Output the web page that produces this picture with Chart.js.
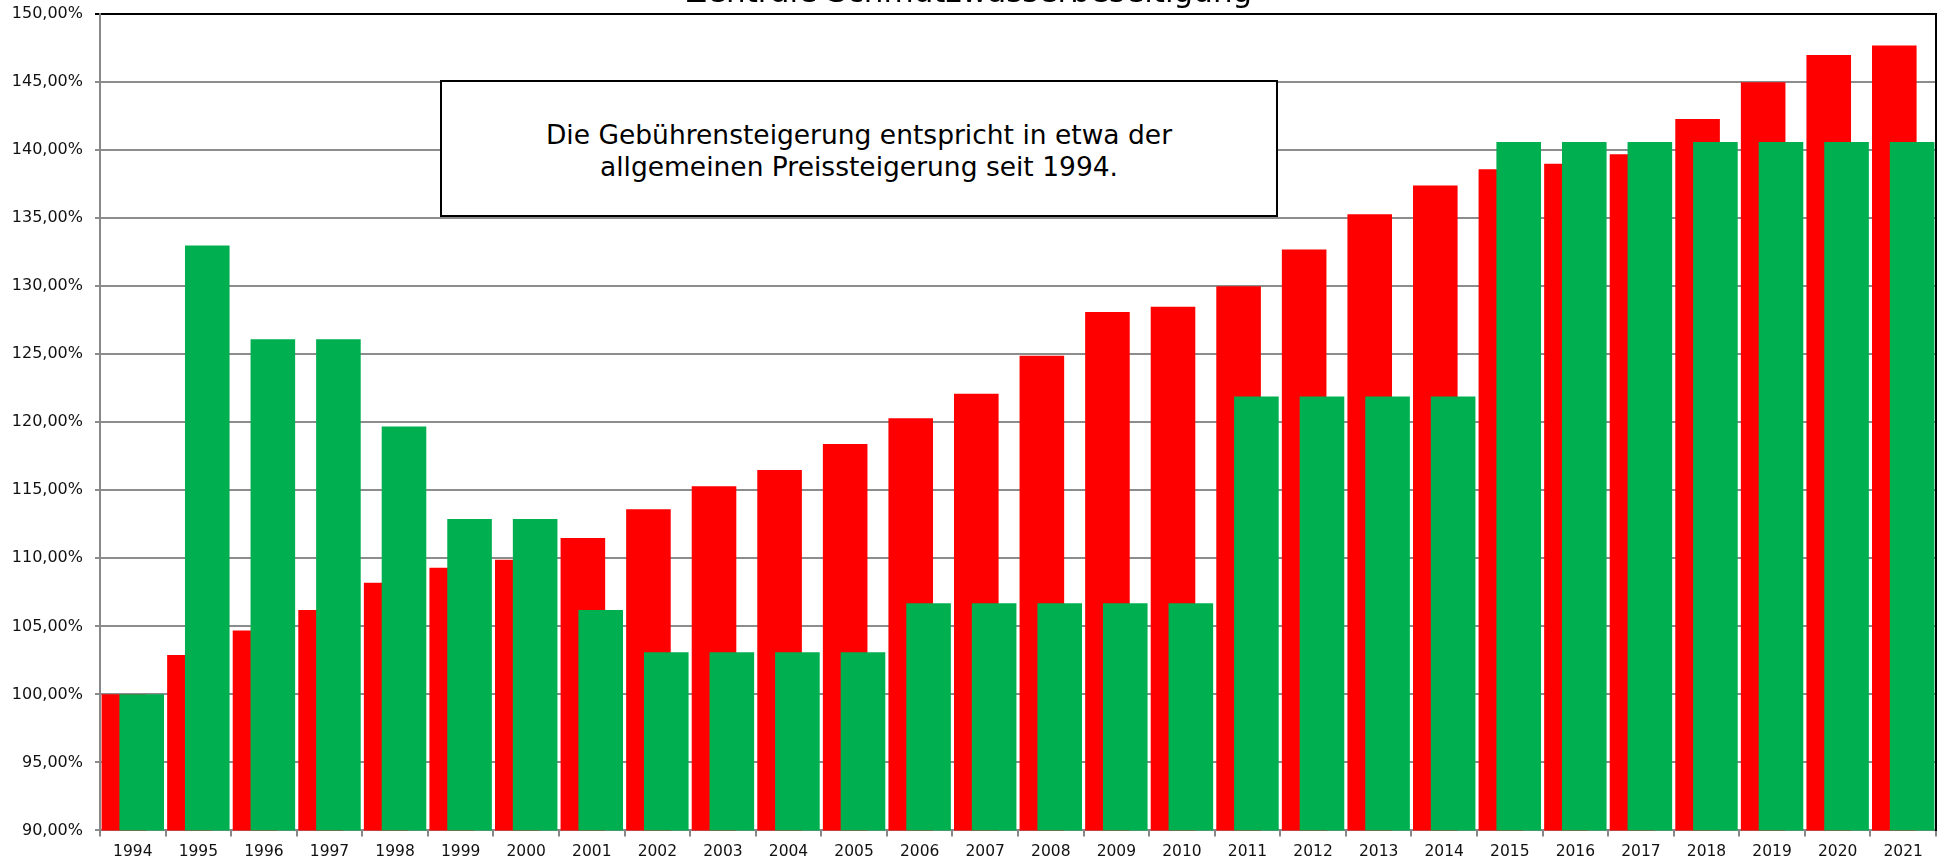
<!DOCTYPE html>
<html lang="de">
<head>
<meta charset="utf-8">
<title>Zentrale Schmutzwasserbeseitigung</title>
<script src="https://cdn.jsdelivr.net/npm/chart.js@4.4.1/dist/chart.umd.min.js"></script>
<style>
  html, body { margin: 0; padding: 0; background: #fff; overflow: hidden; }
  #wrap { position: relative; width: 1938px; height: 860px; overflow: hidden; }
  #chart { position: absolute; left: 0; top: -25px; }
  #hinweis {
    position: absolute; left: 440px; top: 80px;
    width: 834px; height: 129px; padding-top: 4px;
    border: 2px solid #000; background: #fff; color: #000;
    font: 26.5px 'DejaVu Sans', Verdana, sans-serif; line-height: 32px;
    display: flex; align-items: center; justify-content: center; text-align: center;
  }
</style>
</head>
<body>
<div id="wrap">
  <canvas id="chart" width="1938" height="892"></canvas>
  <div id="hinweis">Die Gebührensteigerung entspricht in etwa der<br>allgemeinen Preissteigerung seit 1994.</div>
</div>
<script>
const jahre = ['1994', '1995', '1996', '1997', '1998', '1999', '2000', '2001', '2002', '2003',
  '2004', '2005', '2006', '2007', '2008', '2009', '2010', '2011', '2012', '2013',
  '2014', '2015', '2016', '2017', '2018', '2019', '2020', '2021'];

// Preissteigerung (rot), 1994 = 100 %
const preise = [100.0, 102.9, 104.7, 106.2, 108.2, 109.3, 109.9, 111.5, 113.6, 115.3,
  116.5, 118.4, 120.3, 122.1, 124.9, 128.1, 128.5, 130.0, 132.7, 135.3,
  137.4, 138.6, 139.0, 139.7, 142.3, 145.0, 147.0, 147.7];

// Gebühren (grün), 1994 = 100 %
const gebuehren = [100.0, 133.0, 126.1, 126.1, 119.7, 112.9, 112.9, 106.2, 103.1, 103.1,
  103.1, 103.1, 106.7, 106.7, 106.7, 106.7, 106.7, 121.9, 121.9, 121.9,
  121.9, 140.6, 140.6, 140.6, 140.6, 140.6, 140.6, 140.6];

const yMin = 90, yMax = 150, yStep = 5;

// rote Säulen zuerst zeichnen, grüne darüber (auf die Zeichenfläche beschnitten)
const zeichenfolge = {
  id: 'zeichenfolge',
  beforeDatasetsDraw(chart) {
    const { ctx, chartArea: a } = chart;
    ctx.save();
    ctx.beginPath();
    ctx.rect(a.left, a.top, a.right - a.left, a.bottom - a.top);
    ctx.clip();
    chart.getSortedVisibleDatasetMetas().forEach(m => m.controller.draw());
    ctx.restore();
    return false;
  }
};

const schrift = "'DejaVu Sans', Verdana, sans-serif";

new Chart(document.getElementById('chart'), {
  type: 'bar',
  data: {
    labels: jahre,
    datasets: [
      { label: 'Preissteigerung', data: preise, backgroundColor: '#ff0000' },
      { label: 'Gebühren', data: gebuehren, backgroundColor: '#00b050' }
    ]
  },
  options: {
    responsive: false,
    animation: false,
    categoryPercentage: 0.544,
    barPercentage: 2.5,
    layout: { padding: { left: 0, right: 0, top: 0, bottom: 0 } },
    plugins: {
      legend: { display: false },
      tooltip: { enabled: false },
      title: {
        display: true,
        text: 'Zentrale Schmutzwasserbeseitigung',
        color: '#000',
        font: { family: schrift, size: 31, weight: 'normal' },
        padding: { top: 0, bottom: 2 }
      }
    },
    scales: {
      x: {
        grid: { offset: true, drawOnChartArea: false, tickLength: 6, color: '#888', lineWidth: 2 },
        border: { color: '#888', width: 2 },
        ticks: { color: '#111', font: { family: schrift, size: 15.5 }, padding: 6, maxRotation: 0 }
      },
      y: {
        min: yMin, max: yMax,
        afterFit(scale) { scale.width = 100; },
        ticks: {
          stepSize: yStep,
          color: '#111',
          padding: 12,
          font: { family: schrift, size: 16 },
          callback: v => v.toFixed(2).replace('.', ',') + '%'
        },
        grid: {
          tickLength: 5,
          lineWidth: 2,
          color: ctx => ctx.tick && ctx.tick.value === yMax ? '#000' : '#8c8c8c'
        },
        border: { color: '#888', width: 2 }
      },
      rechts: {
        position: 'right',
        min: yMin, max: yMax,
        afterFit(scale) { scale.width = 2; },
        ticks: { display: false },
        grid: { display: false },
        border: { color: '#000', width: 2 }
      }
    }
  },
  plugins: [zeichenfolge]
});
</script>
</body>
</html>
